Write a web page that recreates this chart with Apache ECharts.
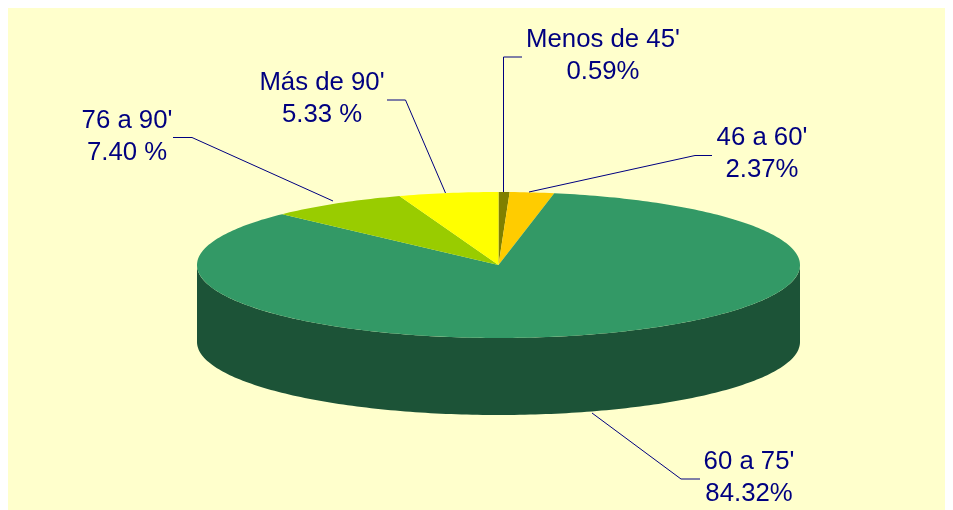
<!DOCTYPE html>
<html><head><meta charset="utf-8">
<style>html,body{margin:0;padding:0;background:#fff}#c{width:953px;height:510px}</style>
<script src="https://cdn.jsdelivr.net/npm/echarts@6/dist/echarts.min.js"></script>
</head><body><div id="c"></div>
<script>
// Data, clockwise from 12 o'clock
var categories = ["Menos de 45'", "46 a 60'", "60 a 75'", "76 a 90'", "Más de 90'"];
var shares = [0.59, 2.37, 84.32, 7.40, 5.33];
var shareLabels = ["0.59%", "2.37%", "84.32%", "7.40 %", "5.33 %"];

// Styling and layout
var topColors = ["#808000", "#FFCC00", "#339966", "#99CC00", "#FFFF00"];
var sideColors = ["#404000", "#806600", "#1C5337", "#4D6600", "#808000"];
var labelCenters = [[603, 40], [762, 138], [749, 462], [127, 121], [322, 83]];
var leaders = [
  [[503.5, 192], [503.5, 57], [522, 57]],
  [[529, 192], [695, 155.5], [712, 155.5]],
  [[592, 413], [681, 479], [700, 479]],
  [[333, 201], [192, 137.5], [173, 137.5]],
  [[445.5, 193], [405.5, 100], [387, 100]]
];
var cx = 498.5, cy = 265, rx = 301.5, ry = 73, depth = 77;
var total = shares.reduce(function (a, b) { return a + b; }, 0);

function pt(deg, dy) {
  var t = deg * Math.PI / 180;
  return [cx + rx * Math.sin(t), cy - ry * Math.cos(t) + (dy || 0)];
}
function arc(a, b, dy) {
  var pts = [], n = Math.max(2, Math.ceil((b - a) / 1));
  for (var i = 0; i <= n; i++) pts.push(pt(a + (b - a) * i / n, dy));
  return pts;
}
function startOf(idx) {
  var s = 0;
  for (var i = 0; i < idx; i++) s += shares[i];
  return s / total * 360;
}

var option = {
  animation: false,
  backgroundColor: '#FFFFFF',
  graphic: [{
    type: 'rect', z: 0, silent: true,
    shape: { x: 8, y: 8, width: 937, height: 502 },
    style: { fill: '#FFFFCC' }
  }],
  series: [
    { // side wall
      type: 'custom', coordinateSystem: 'none', z: 1, silent: true, clip: false,
      data: shares,
      renderItem: function (params, api) {
        var a = startOf(params.dataIndex), b = a + api.value(0) / total * 360;
        var lo = Math.max(a, 90), hi = Math.min(b, 270);
        if (hi <= lo) return { type: 'group', children: [] };
        var pts = arc(lo, hi, 0).concat(arc(lo, hi, depth).reverse());
        return { type: 'polygon', shape: { points: pts }, style: { fill: sideColors[params.dataIndex] } };
      }
    },
    { // top face
      type: 'custom', coordinateSystem: 'none', z: 2, silent: true, clip: false,
      data: shares,
      renderItem: function (params, api) {
        var a = startOf(params.dataIndex), b = a + api.value(0) / total * 360;
        var pts = [[cx, cy]].concat(arc(a, b, 0));
        return { type: 'polygon', shape: { points: pts }, style: { fill: topColors[params.dataIndex] } };
      }
    },
    { // leaders and labels
      type: 'custom', coordinateSystem: 'none', z: 3, silent: true, clip: false,
      data: shares,
      renderItem: function (params, api) {
        var i = params.dataIndex, c = labelCenters[i];
        var font = { fontFamily: 'Liberation Sans', fontSize: 25, fill: '#000080', textAlign: 'center', textVerticalAlign: 'middle' };
        return {
          type: 'group',
          children: [
            { type: 'polyline', shape: { points: leaders[i] }, style: { stroke: '#000080', lineWidth: 1, fill: null } },
            { type: 'text', x: c[0], y: c[1], scaleX: 1.03, style: Object.assign({ text: categories[i], x: 0, y: 0 }, font) },
            { type: 'text', x: c[0], y: c[1] + 32, scaleX: 1.03, style: Object.assign({ text: shareLabels[i], x: 0, y: 0 }, font) }
          ]
        };
      }
    }
  ]
};
echarts.init(document.getElementById('c'), null, { renderer: 'canvas' }).setOption(option);
</script>
</body></html>
